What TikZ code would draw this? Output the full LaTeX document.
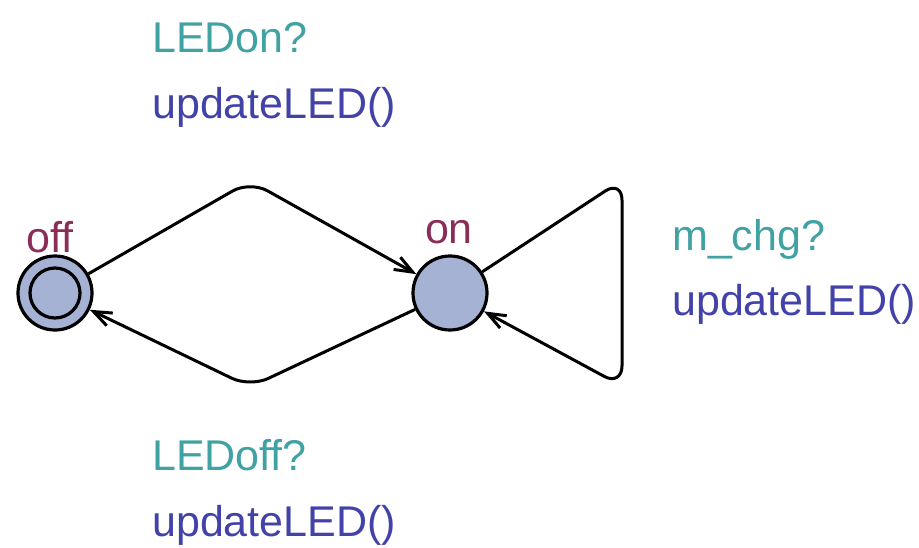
\documentclass[tikz,border=0pt]{standalone}
\usepackage{fontspec}
\setmainfont{Liberation Sans}
\usepackage{tikz}
\usetikzlibrary{arrows.meta}
\definecolor{synccol}{RGB}{64,162,162}
\definecolor{updcol}{RGB}{66,66,168}
\definecolor{namecol}{RGB}{138,46,88}
\definecolor{locfill}{RGB}{166,178,212}
\tikzstyle{loc}=[draw, circle, fill=locfill, line width=3.2pt, minimum size=74pt, inner sep=0pt]
\tikzstyle{lname}=[text=namecol, font=\fontsize{43}{43}\selectfont]
\tikzstyle{sync}=[text=synccol, anchor=base west, inner sep=0pt, font=\fontsize{43}{43}\selectfont]
\tikzstyle{upd}=[text=updcol, anchor=base west, inner sep=0pt, font=\fontsize{43}{43}\selectfont]
\tikzstyle{trans}=[line width=3pt, rounded corners=20pt, -{Straight Barb[length=18pt,width=14pt]}]

\begin{document}
\begin{tikzpicture}[x=1pt, y=-1pt]
            \useasboundingbox (0,0) rectangle (919,547);
            \node [loc] (off) at (55,293) {};
            \node [loc, minimum size=50pt] (offin) at (off) {};
            \node [loc, right of=off, node distance=395pt] (on) {};
            \node [lname, anchor=base] (offname) at (50,252) {off};
            \node [lname, anchor=base] (onname) at (449,243) {on};
            \coordinate (top) at (250,181);
            \coordinate (bot) at (250,387);
            \coordinate (lpt) at (622,180);
            \coordinate (lpb) at (622,386);
            \draw [trans] (off) -- (top) -- (on);
            \draw [trans] (on) -- (bot) -- (off);
            \draw [trans] (on) -- (lpt) -- (lpb) -- (on);
            \node [sync] (s1) at (152,52) {LEDon?};
            \node [upd] (u1) at (152,118) {updateLED()};
            \node [sync] (s2) at (672,250) {m\_chg?};
            \node [upd] (u2) at (672,315) {updateLED()};
            \node [sync] (s3) at (152,470) {LEDoff?};
            \node [upd] (u3) at (152,536) {updateLED()};
        \end{tikzpicture}
\end{document}
